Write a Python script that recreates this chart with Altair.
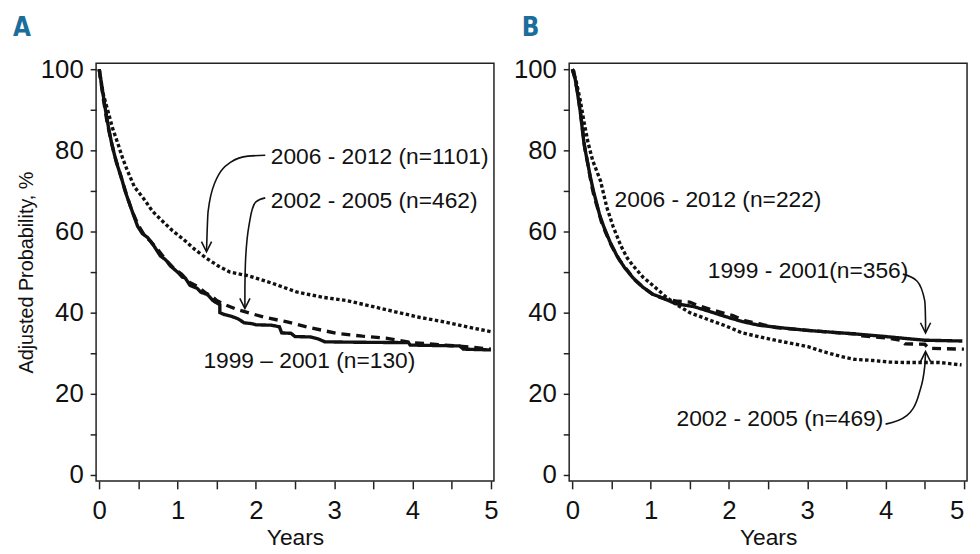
import altair as alt
import pandas as pd

# ---------------- Panel A data ----------------
a_solid_t = [0, 0.04, 0.08, 0.12, 0.16, 0.22, 0.28, 0.33, 0.37, 0.43, 0.49, 0.55, 0.62, 0.7, 0.78, 0.85, 0.91, 1.0, 1.06, 1.1, 1.16, 1.25, 1.3, 1.38, 1.45, 1.5, 1.54, 1.54, 1.6, 1.7, 1.77, 1.85, 1.94, 2.0, 2.2, 2.3, 2.33, 2.45, 2.5, 2.7, 2.8, 2.88, 3.3, 3.95, 3.97, 4.6, 4.65, 5.0]
a_solid_v = [100, 95, 90, 85.5, 81.6, 77, 73.5, 70, 67.8, 64.5, 61.3, 59.5, 58.5, 56.4, 54, 53, 51.5, 50, 48.8, 48.5, 46.7, 46, 45, 44.5, 43, 42.4, 42, 40, 39.5, 39, 38.5, 37.5, 37.3, 37, 36.9, 36.5, 35, 34.9, 34.1, 34, 33.5, 32.8, 32.7, 32.6, 32, 31.8, 31, 30.8]

a_dash_t = [0, 0.05, 0.1, 0.15, 0.2, 0.27, 0.35, 0.42, 0.5, 0.58, 0.66, 0.75, 0.85, 0.95, 1.05, 1.15, 1.25, 1.35, 1.45, 1.5, 1.6, 1.77, 1.9, 2.1, 2.4, 2.69, 3.03, 3.36, 3.66, 3.99, 4.2, 4.41, 4.74, 5.0]
a_dash_v = [100, 93, 87, 82.5, 78.5, 74, 69, 65, 61.5, 59, 57.5, 55.5, 53, 51, 49.5, 47.5, 46.5, 45, 43.8, 43, 42, 40.7, 40, 38.9, 37.7, 36.3, 34.9, 34.2, 33.7, 32.6, 32.3, 32, 31.5, 31]

a_dot_t = [0, 0.05, 0.11, 0.17, 0.24, 0.3, 0.36, 0.45, 0.58, 0.68, 0.79, 0.93, 1.08, 1.22, 1.37, 1.52, 1.67, 1.9, 2.2, 2.52, 2.85, 3.15, 3.45, 3.78, 4.1, 4.41, 4.7, 5.0]
a_dot_v = [100, 94, 89.8, 85.5, 81.6, 78, 75, 71, 67.8, 65, 62.9, 60.3, 58, 55.6, 53.4, 51.5, 50, 49.1, 47.3, 45.1, 43.8, 43, 41.7, 40.2, 38.8, 37.7, 36.5, 35.3]

# ---------------- Panel B data ----------------
b_solid_t = [0, 0.02, 0.06, 0.1, 0.15, 0.19, 0.23, 0.27, 0.31, 0.35, 0.4, 0.48, 0.57, 0.67, 0.78, 0.9, 1.03, 1.13, 1.32, 1.55, 1.75, 1.96, 2.17, 2.38, 2.7, 3.01, 3.3, 3.64, 3.95, 4.27, 4.5, 4.98]
b_solid_v = [100, 99.5, 95, 89.8, 81.6, 77.5, 73.5, 70, 67, 64, 61.3, 57.5, 54, 51, 48.5, 46.3, 44.5, 43.8, 42.2, 41.5, 40.3, 39, 37.8, 36.9, 36.2, 35.6, 35.2, 34.7, 34.2, 33.6, 33.2, 33]

b_dash_t = [0, 0.03, 0.07, 0.11, 0.16, 0.2, 0.24, 0.28, 0.32, 0.37, 0.42, 0.5, 0.6, 0.7, 0.8, 0.92, 1.05, 1.2, 1.35, 1.5, 1.6, 1.8, 1.95, 2.05, 2.2, 2.4, 2.6, 2.9, 3.1, 3.4, 3.6, 3.7, 4.0, 4.2, 4.25, 4.5, 4.55, 5.0]
b_dash_v = [100, 98, 94, 88.5, 80.5, 76.5, 72, 68.5, 66, 62.5, 60, 56.5, 53, 50.5, 48, 46, 44.2, 43.3, 42.8, 42.6, 41.8, 40.6, 39.8, 39.3, 38, 37.2, 36.3, 35.8, 35.5, 35, 34.8, 34.3, 33.8, 33.2, 32.3, 32.2, 31.2, 31]

b_dot_t = [0, 0.05, 0.1, 0.15, 0.2, 0.26, 0.32, 0.36, 0.44, 0.52, 0.62, 0.7, 0.78, 0.9, 1.03, 1.2, 1.33, 1.5, 1.76, 1.95, 2.17, 2.4, 2.59, 2.8, 3.01, 3.2, 3.43, 3.6, 3.84, 4.05, 4.27, 4.69, 4.97]
b_dot_v = [100, 97, 92.5, 87, 82, 77.5, 74.5, 72.5, 66, 61.3, 56.5, 53.5, 51.5, 48.8, 46.7, 43.8, 42, 40, 38.1, 36.8, 35, 34, 33.2, 32.4, 31.6, 30.4, 29.2, 28.5, 28.2, 27.8, 27.7, 27.7, 27.1]

# ---------------- Annotations ----------------
a_labels = ["2006 - 2012 (n=1101)", "2002 - 2005 (n=462)", "1999 \u2013 2001 (n=130)"]
a_label_t = [2.19, 2.19, 1.33]
a_label_v = [78.3, 67.6, 28.0]
a_arrow1_t = [2.12, 1.9, 1.68, 1.48, 1.39, 1.37]
a_arrow1_v = [78.8, 78.6, 77.1, 72.2, 64.9, 55.2]
a_arrow2_t = [2.12, 2.0, 1.92, 1.87, 1.86, 1.86]
a_arrow2_v = [68.3, 67.3, 62.4, 53.6, 46.0, 41.2]
a_head_t = [1.37, 1.86]
a_head_v = [55.0, 41.0]

b_labels = ["2006 - 2012 (n=222)", "1999 - 2001(n=356)", "2002 - 2005 (n=469)"]
b_label_t = [0.54, 1.73, 1.33]
b_label_v = [67.8, 50.2, 13.7]
b_arrow1_t = [4.22, 4.4, 4.5, 4.51, 4.51]
b_arrow1_v = [49.5, 47.8, 42.9, 38.0, 35.2]
b_arrow2_t = [4.0, 4.27, 4.43, 4.5, 4.51]
b_arrow2_v = [12.5, 14.6, 20.2, 26.8, 30.2]
b_headdown_t = [4.51]
b_headdown_v = [35.0]
b_headup_t = [4.51]
b_headup_v = [30.4]

FONT = "Liberation Sans"
XDOM = [-0.04, 5.04]
YDOM = [-1.5, 101.5]
x_ticks = [i * 0.5 for i in range(11)]
y_ticks = [i * 10 for i in range(11)]
PW, PH = 402, 422


def curves(ts, vs, names):
    rows = []
    for t_list, v_list, name in zip(ts, vs, names):
        for i, (t, v) in enumerate(zip(t_list, v_list)):
            rows.append({"t": t, "v": v, "style": name, "i": i})
    return pd.DataFrame(rows)


def x_axis(flush_last):
    kw = dict(values=x_ticks,
              labelExpr="datum.value % 1 == 0 ? format(datum.value, 'd') : ''",
              title="Years", grid=False, domain=False, tickSize=8, tickWidth=1.5,
              tickColor="#222", labelFontSize=26, labelFont=FONT, labelColor="#111",
              labelPadding=9, titleFontSize=23, titleFont=FONT, titleFontWeight="normal",
              titleColor="#111", titlePadding=3, labelFlush=False)
    if flush_last:
        kw["labelAlign"] = {"condition": {"test": "datum.value == 5", "value": "right"},
                            "value": "center"}
    return alt.Axis(**kw)


def y_axis(title):
    kw = dict(values=y_ticks, labelExpr="datum.value % 20 == 0 ? datum.label : ''",
              grid=False, domain=False, tickSize=6, tickWidth=1.5, tickColor="#222",
              labelFontSize=26, labelFont=FONT, labelColor="#111", labelPadding=7,
              labelFlush=False, titleFontSize=20, titleFont=FONT, titleFontWeight="normal",
              titleColor="#111", titlePadding=4)
    kw["title"] = title if title else ""
    return alt.Axis(**kw)


def panel(curve_df, label_df, arrow_df, heads, letter, letter_dx, ytitle, flush_last):
    X = alt.X("t:Q", scale=alt.Scale(domain=XDOM, nice=False, zero=False), axis=x_axis(flush_last))
    Y = alt.Y("v:Q", scale=alt.Scale(domain=YDOM, nice=False, zero=False), axis=y_axis(ytitle))
    lines = alt.Chart(curve_df).mark_line(strokeWidth=3.4, color="#111").encode(
        x=X, y=Y,
        strokeDash=alt.StrokeDash("style:N", scale=alt.Scale(
            domain=["solid", "dashed", "dotted"], range=[[1, 0], [9, 6], [3.5, 2.5]]), legend=None),
        detail="style:N", order="i:Q")
    texts = alt.Chart(label_df).mark_text(align="left", baseline="middle", fontSize=23,
                                          font=FONT, color="#111").encode(
        x=X, y=Y, text="label:N")
    arrows = alt.Chart(arrow_df).mark_line(strokeWidth=1.6, color="#111", interpolate="monotone").encode(
        x=X, y=Y, detail="arrow:N", order="i:Q")
    layers = [lines, texts, arrows]
    for hdf, shape in heads:
        layers.append(alt.Chart(hdf).mark_point(shape=shape, size=420, filled=False,
                                                 strokeWidth=1.6, color="#111", opacity=1).encode(
            x=X, y=Y))
    return alt.layer(*layers).properties(
        width=PW, height=PH,
        title=alt.TitleParams(text=letter, anchor="start", frame="group", dx=letter_dx, offset=-5,
                              baseline="alphabetic",
                              font="DejaVu Sans Condensed", fontWeight="bold", fontSize=26,
                              color="#1b6d9b"))


def arrows_df(paths):
    rows = []
    for k, (ts, vs) in enumerate(paths):
        for i, (t, v) in enumerate(zip(ts, vs)):
            rows.append({"t": t, "v": v, "arrow": k, "i": i})
    return pd.DataFrame(rows)


DOWN = "M-0.5,-1L0,0L0.5,-1"
UP = "M-0.5,1L0,0L0.5,1"

a_curves = curves([a_solid_t, a_dash_t, a_dot_t], [a_solid_v, a_dash_v, a_dot_v], ["solid", "dashed", "dotted"])
b_curves = curves([b_solid_t, b_dash_t, b_dot_t], [b_solid_v, b_dash_v, b_dot_v], ["solid", "dashed", "dotted"])

a_text = pd.DataFrame({"t": a_label_t, "v": a_label_v, "label": a_labels})
b_text = pd.DataFrame({"t": b_label_t, "v": b_label_v, "label": b_labels})

a_arr = arrows_df([(a_arrow1_t, a_arrow1_v), (a_arrow2_t, a_arrow2_v)])
b_arr = arrows_df([(b_arrow1_t, b_arrow1_v), (b_arrow2_t, b_arrow2_v)])

a_heads = [(pd.DataFrame({"t": a_head_t, "v": a_head_v}), DOWN)]
b_heads = [(pd.DataFrame({"t": b_headdown_t, "v": b_headdown_v}), DOWN),
           (pd.DataFrame({"t": b_headup_t, "v": b_headup_v}), UP)]

pa = panel(a_curves, a_text, a_arr, a_heads, "A", -84, "Adjusted Probability, %", False)
pb = panel(b_curves, b_text, b_arr, b_heads, "B", -48, None, True)

chart = alt.hconcat(pa, pb, spacing=13).properties(
    padding={"left": 4, "top": 3, "right": 0, "bottom": 0},
    background="white",
).configure_view(stroke="#222", strokeWidth=1.5)

chart.save("out.html", embed_options={"renderer": "svg", "actions": False})
